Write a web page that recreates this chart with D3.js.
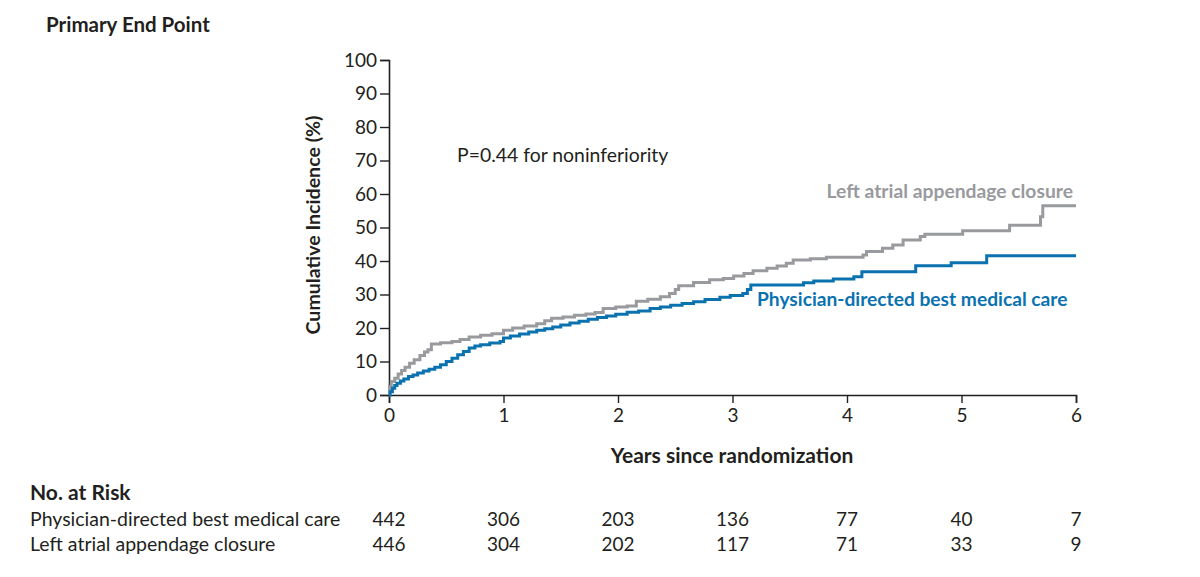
<!DOCTYPE html>
<html><head><meta charset="utf-8">
<script src="https://cdn.jsdelivr.net/npm/d3@7"></script>
<style>
body{margin:0;background:#fff;}
text{font-family:Lato,"Open Sans",sans-serif;fill:#231f20;}
</style></head>
<body><svg id="c" width="1200" height="577"></svg>
<script>
// ---- data ----
const years = [0,1,2,3,4,5,6];
const yTicks = [0,10,20,30,40,50,60,70,80,90,100];
const seriesNames = ["Physician-directed best medical care","Left atrial appendage closure"];
const riskBMC = [442,306,203,136,77,40,7];
const riskLAAC = [446,304,202,117,71,33,9];
// step curve points [years, cumulative incidence %]
const laacTimes = [0,0.005,0.02,0.05,0.08,0.11,0.14,0.18,0.22,0.27,0.31,0.34,0.37,0.45,0.55,0.62,0.7,0.8,0.9,1.0,1.08,1.18,1.29,1.36,1.42,1.52,1.62,1.72,1.8,1.87,1.98,2.08,2.16,2.26,2.37,2.45,2.5,2.53,2.66,2.8,2.92,3.01,3.1,3.18,3.3,3.39,3.47,3.53,3.68,3.82,4.14,4.17,4.31,4.4,4.49,4.64,4.68,5.01,5.42,5.69,5.71,6];
const laacValues = [0,2.5,4,5,6.3,7.3,8.3,9.5,10.5,11.8,12.8,13.5,15.2,15.6,16,16.6,17.3,17.8,18.3,19.3,20,20.6,21.3,22.2,22.9,23.3,23.8,24.2,24.6,25.8,26.3,26.6,28,28.6,29.3,30.3,31.5,32.6,33.6,34.4,34.8,35.5,36.3,37.1,37.8,38.5,39.3,40.3,40.7,41.1,41.8,42.8,43.8,44.8,46.3,47.3,48,49,50.7,53.2,56.5,56.5];
const bmcTimes = [0,0.01,0.03,0.05,0.07,0.1,0.13,0.17,0.21,0.25,0.3,0.35,0.4,0.45,0.5,0.55,0.6,0.65,0.7,0.75,0.8,0.88,0.97,1.0,1.06,1.14,1.22,1.29,1.36,1.43,1.5,1.58,1.66,1.74,1.82,1.9,1.98,2.08,2.18,2.28,2.37,2.46,2.56,2.66,2.76,2.89,2.98,3.09,3.13,3.16,3.62,3.71,3.88,4.06,4.13,4.6,4.91,5.22,6];
const bmcValues = [0,1,2,2.8,3.5,4.2,4.8,5.5,6,6.6,7.2,7.7,8.3,9,10,11,12,13,14,14.6,15,15.5,16,17,17.6,18.2,18.8,19.3,19.8,20.3,20.9,21.5,22,22.6,23.1,23.6,24.1,24.7,25.1,25.8,26.3,26.8,27.3,27.8,28.5,29.2,29.7,30.3,31.5,32.8,33.5,34,34.6,35.3,36.8,38.6,39.5,41.6,41.6];

const svg = d3.select("#c");
const x = d3.scaleLinear().domain([0,6]).range([389,1076]);
const y = d3.scaleLinear().domain([0,100]).range([395,60]);

const grayC = "#999a9e", blueC = "#0b72b0";

// title
svg.append("text").attr("x",46).attr("y",32).attr("font-size",20.5).attr("font-weight",700).text("Primary End Point");

// y axis
const ya = svg.append("g").attr("transform","translate(389,0)")
  .call(d3.axisLeft(y).tickValues(yTicks).tickSize(9).tickPadding(3));
ya.select(".domain").attr("stroke","#231f20").attr("stroke-width",1.6);
ya.selectAll(".tick line").attr("stroke","#231f20").attr("stroke-width",1.4);
ya.selectAll(".tick text").attr("font-size",19).attr("font-family","Lato,sans-serif").attr("fill","#231f20");

// x axis
const xa = svg.append("g").attr("transform","translate(0,395)")
  .call(d3.axisBottom(x).tickValues(years).tickSize(8).tickPadding(6).tickFormat(d3.format("d")));
xa.select(".domain").attr("stroke","#231f20").attr("stroke-width",1.6);
xa.selectAll(".tick line").attr("stroke","#231f20").attr("stroke-width",1.4);
xa.selectAll(".tick text").attr("font-size",19).attr("font-family","Lato,sans-serif").attr("fill","#231f20");

// axis titles
svg.append("text").attr("transform","translate(320,225) rotate(-90)").attr("text-anchor","middle")
  .attr("font-size",19.6).attr("font-weight",700).text("Cumulative Incidence (%)");
svg.append("text").attr("x",732).attr("y",463).attr("text-anchor","middle")
  .attr("font-size",21).attr("font-weight",700).text("Years since randomization");

// curves
const line = d3.line().x(d=>x(d[0])).y(d=>y(d[1])).curve(d3.curveStepAfter);
const laac = laacTimes.map((t,i)=>[t,laacValues[i]]);
const bmc = bmcTimes.map((t,i)=>[t,bmcValues[i]]);
svg.append("path").datum(laac).attr("d",line).attr("fill","none").attr("stroke",grayC).attr("stroke-width",3);
svg.append("path").datum(bmc).attr("d",line).attr("fill","none").attr("stroke",blueC).attr("stroke-width",3);

// annotations
svg.append("text").attr("x",457).attr("y",162).attr("font-size",19.4).text("P=0.44 for noninferiority");
svg.append("text").attr("x",1073).attr("y",198).attr("text-anchor","end").attr("font-size",19.3).attr("font-weight",700)
  .style("fill",grayC).text(seriesNames[1]);
svg.append("text").attr("x",757).attr("y",306).attr("font-size",19.2).attr("font-weight",700)
  .style("fill",blueC).text(seriesNames[0]);

// risk table
svg.append("text").attr("x",30).attr("y",500).attr("font-size",21).attr("font-weight",700).text("No. at Risk");
const rows = [[seriesNames[0],riskBMC,526],[seriesNames[1],riskLAAC,551]];
rows.forEach(r=>{
  svg.append("text").attr("x",30).attr("y",r[2]).attr("font-size",19.5).text(r[0]);
  svg.selectAll(null).data(r[1]).enter().append("text")
    .attr("x",(d,i)=>x(years[i])).attr("y",r[2]).attr("text-anchor","middle").attr("font-size",19).text(d=>d);
});
</script></body></html>
